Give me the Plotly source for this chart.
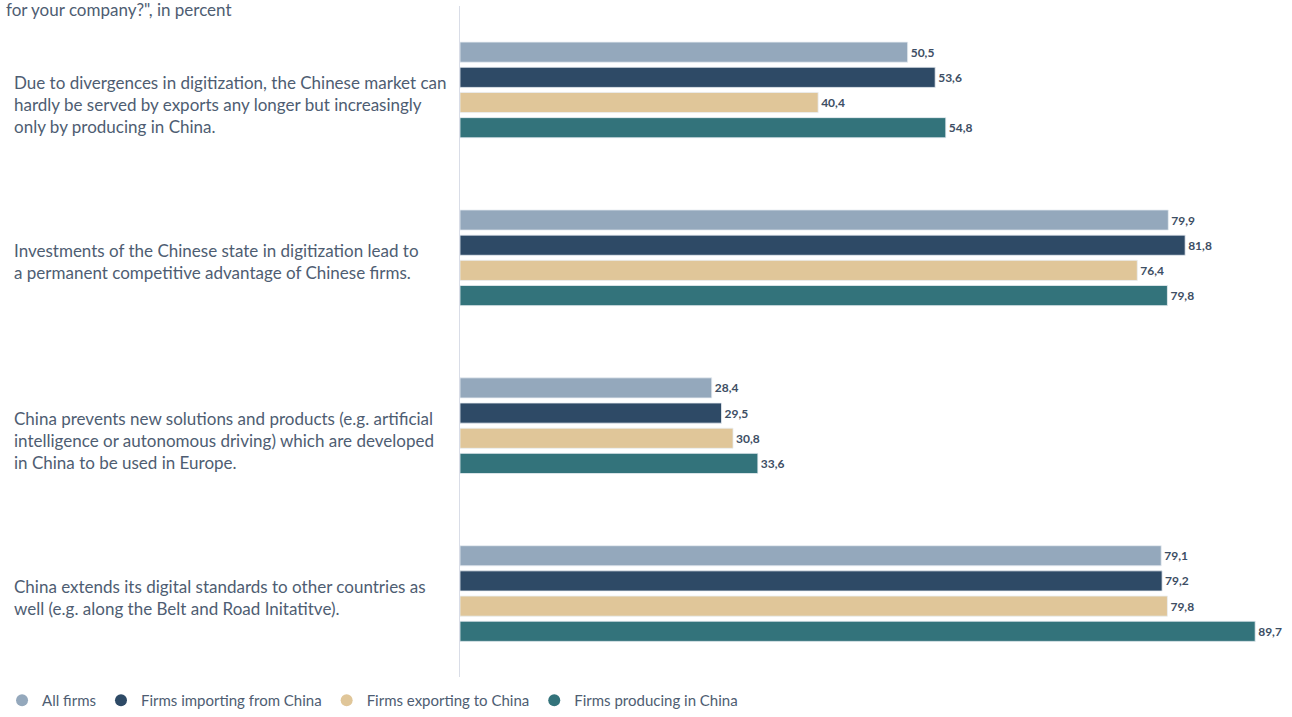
import plotly.graph_objects as go

categories = [
    "Due to divergences in digitization, the Chinese market can<br>hardly be served by exports any longer but increasingly<br>only by producing in China.",
    "Investments of the Chinese state in digitization lead to<br>a permanent competitive advantage of Chinese firms.",
    "China prevents new solutions and products (e.g. artificial<br>intelligence or autonomous driving) which are developed<br>in China to be used in Europe.",
    "China extends its digital standards to other countries as<br>well (e.g. along the Belt and Road Initatitve).",
]
cat_keys = ["c1", "c2", "c3", "c4"]

series_names = ["All firms", "Firms importing from China", "Firms exporting to China", "Firms producing in China"]
all_firms = [50.5, 79.9, 28.4, 79.1]
importing = [53.6, 81.8, 29.5, 79.2]
exporting = [40.4, 76.4, 30.8, 79.8]
producing = [54.8, 79.8, 33.6, 89.7]
series_values = [all_firms, importing, exporting, producing]
colors = ["#94a8bc", "#2e4a66", "#e0c699", "#33737b"]

title_fragment = 'for your company?", in percent'

FONT = "Lato"
TEXT_COLOR = "#4e5d72"

fig = go.Figure()
for name, vals, col in zip(series_names, series_values, colors):
    fig.add_trace(go.Bar(
        y=cat_keys, x=vals, orientation="h", name=name,
        marker=dict(color=col, line=dict(color="#e9eef2", width=0.8)),
        text=[f"{v:.1f}".replace(".", ",") for v in vals],
        textposition="outside", cliponaxis=False,
        textfont=dict(family=FONT, size=12, color="#3d4e64", weight="bold"),
        showlegend=False, hoverinfo="skip",
    ))
    fig.add_trace(go.Scatter(
        x=[None], y=[None], mode="markers", name=name,
        marker=dict(color=col, size=12, symbol="circle"),
        showlegend=True,
    ))

for key, label in zip(cat_keys, categories):
    fig.add_annotation(
        x=0, xref="paper", xshift=12, xanchor="left",
        y=key, yref="y", yanchor="top", yshift=20,
        text=label, align="left", showarrow=False,
        font=dict(family=FONT, size=17, color=TEXT_COLOR),
    )

fig.add_annotation(
    x=0, xref="paper", xshift=4, xanchor="left",
    y=1, yref="paper", yanchor="middle", yshift=-3,
    text=title_fragment, align="left", showarrow=False,
    font=dict(family=FONT, size=17, color=TEXT_COLOR),
)

fig.update_layout(
    width=1292, height=717,
    margin=dict(l=0, r=12, t=6, b=0),
    paper_bgcolor="white", plot_bgcolor="white",
    barmode="group", bargap=0.4, bargroupgap=0.2,
    font=dict(family=FONT, color=TEXT_COLOR),
    xaxis=dict(domain=[0.359375, 1], range=[0, 92.5], visible=False,
               showgrid=False, zeroline=False),
    yaxis=dict(domain=[0.0556, 1],
               categoryorder="array", categoryarray=cat_keys, autorange="reversed",
               showticklabels=False, showgrid=False, zeroline=False,
               showline=True, linecolor="#d9dde7", linewidth=1, ticks=""),
    legend=dict(orientation="h", x=0.0016, xanchor="left", y=0, yanchor="bottom",
                font=dict(family=FONT, size=15, color=TEXT_COLOR),
                bgcolor="rgba(0,0,0,0)", itemclick=False),
)

fig.write_html("out.html", config={"displayModeBar": False},
               post_script="document.body.style.margin='0';")
